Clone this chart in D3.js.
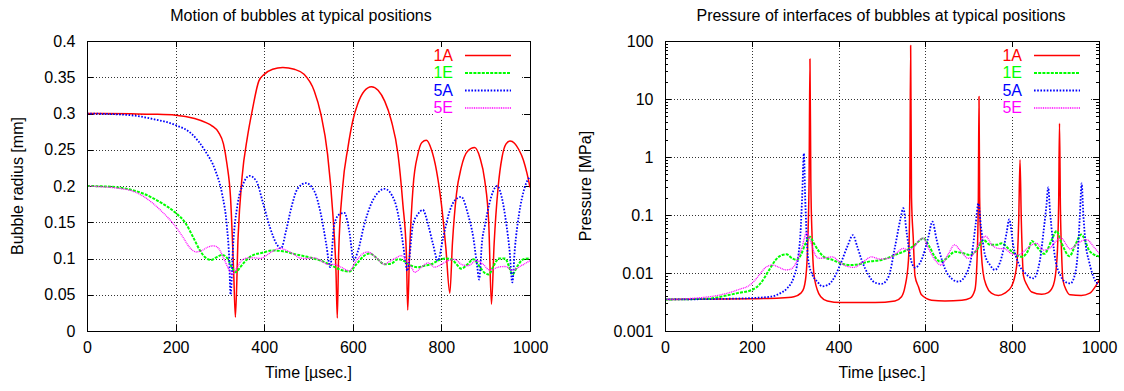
<!DOCTYPE html>
<html>
<head>
<meta charset="utf-8">
<script src="https://cdn.jsdelivr.net/npm/d3@7"></script>
<style>
body { margin: 0; background: #fff; }
svg { display: block; font-family: "Liberation Sans", Arial, Helvetica, sans-serif; font-size: 16px; }
.grid line { stroke: #000; stroke-opacity: 0.8; stroke-dasharray: 1,2; shape-rendering: crispEdges; }
.axis text { font-size: 16px; fill: #000; font-family: "Liberation Sans", Arial, Helvetica, sans-serif; }
.axis line { stroke: #000; shape-rendering: crispEdges; }
.axis path { display: none; }
.border { fill: none; stroke: #000; stroke-width: 1.2; shape-rendering: crispEdges; }
.curve { fill: none; stroke-linejoin: round; }
</style>
</head>
<body>
<svg width="1124" height="391"></svg>
<script>
// ---- data ----
var timeTicks = [0, 200, 400, 600, 800, 1000];
var radiusTicks = [0, 0.05, 0.1, 0.15, 0.2, 0.25, 0.3, 0.35, 0.4];
var pressureTicks = [0.001, 0.01, 0.1, 1, 10, 100];
var seriesNames = ["1A", "1E", "5A", "5E"];

// bubble radius [mm] vs time [usec]
var radius1A = [[0,0.3],[100,0.2995],[150,0.299],[200,0.2977],[243,0.293],[270,0.287],[282,0.283],[297,0.274],[308,0.258],[316,0.23],[324,0.184],[331,0.083],[335,0.019],[341,0.129],[350,0.212],[362,0.267],[373,0.304],[388,0.345],[400,0.354],[419,0.361],[442,0.3635],[468,0.361],[490,0.354],[513,0.331],[528,0.299],[543,0.244],[555,0.161],[562,0.083],[565,0.018],[568,0.106],[577,0.198],[589,0.253],[600,0.29],[611,0.313],[626,0.331],[642,0.337],[657,0.332],[672,0.317],[687,0.29],[702,0.244],[713,0.175],[721,0.106],[724,0.029],[728,0.106],[736,0.198],[747,0.244],[756,0.26],[766,0.263],[777,0.251],[789,0.221],[800,0.175],[810,0.115],[819,0.052],[825,0.122],[834,0.189],[845,0.226],[859,0.248],[875,0.253],[887,0.239],[898,0.207],[907,0.147],[913,0.037],[919,0.12],[928,0.198],[937,0.24],[946,0.258],[955,0.262],[965,0.259],[975,0.25],[985,0.236],[993,0.218],[1000,0.198]];
var radius1E = [[0,0.2],[53,0.199],[91,0.196],[129,0.189],[167,0.177],[200,0.163],[221,0.15],[240,0.129],[255,0.111],[266,0.102],[280,0.098],[293,0.102],[305,0.105],[316,0.101],[327,0.088],[335,0.081],[346,0.088],[358,0.097],[373,0.104],[396,0.108],[419,0.111],[442,0.11],[469,0.106],[506,0.101],[528,0.097],[547,0.092],[570,0.085],[592,0.082],[608,0.092],[626,0.104],[638,0.107],[653,0.101],[672,0.092],[687,0.093],[702,0.099],[717,0.096],[732,0.09],[747,0.088],[762,0.09],[777,0.092],[792,0.097],[808,0.1],[823,0.099],[834,0.092],[845,0.086],[859,0.092],[872,0.099],[887,0.088],[898,0.08],[907,0.078],[918,0.09],[930,0.1],[944,0.1],[952,0.09],[960,0.078],[972,0.09],[985,0.099],[1000,0.1]];
var radius5A = [[0,0.3],[91,0.298],[152,0.292],[200,0.284],[236,0.272],[267,0.248],[290,0.221],[305,0.189],[316,0.143],[321,0.1],[324,0.05],[330,0.12],[340,0.175],[352,0.202],[367,0.214],[382,0.207],[398,0.175],[413,0.143],[428,0.12],[438,0.114],[450,0.14],[462,0.172],[475,0.196],[494,0.204],[513,0.193],[528,0.161],[540,0.12],[549,0.088],[558,0.147],[570,0.161],[581,0.163],[592,0.138],[602,0.098],[611,0.109],[626,0.147],[645,0.18],[672,0.196],[694,0.18],[709,0.138],[718,0.1],[723,0.083],[736,0.147],[747,0.161],[758,0.167],[770,0.147],[781,0.12],[792,0.097],[804,0.129],[819,0.166],[830,0.18],[845,0.185],[860,0.161],[872,0.129],[881,0.088],[885,0.071],[892,0.125],[898,0.145],[908,0.175],[917,0.193],[926,0.2],[936,0.185],[946,0.15],[954,0.11],[960,0.067],[966,0.115],[975,0.16],[988,0.198],[1000,0.213]];
var radius5E = [[0,0.2],[91,0.195],[129,0.185],[167,0.166],[200,0.144],[217,0.129],[232,0.115],[247,0.109],[259,0.111],[274,0.116],[286,0.1175],[297,0.114],[308,0.101],[320,0.085],[327,0.078],[339,0.088],[350,0.098],[366,0.101],[377,0.101],[392,0.1],[404,0.104],[419,0.11],[435,0.114],[451,0.111],[469,0.105],[479,0.101],[494,0.1],[513,0.101],[528,0.097],[543,0.092],[558,0.092],[574,0.088],[592,0.083],[608,0.097],[623,0.107],[634,0.109],[653,0.101],[672,0.092],[683,0.096],[698,0.101],[709,0.104],[721,0.097],[732,0.088],[740,0.081],[755,0.088],[770,0.094],[785,0.088],[800,0.092],[815,0.097],[830,0.099],[845,0.092],[860,0.09],[879,0.097],[894,0.092],[909,0.084],[928,0.088],[944,0.089],[960,0.084],[980,0.09],[1000,0.097]];

// interface pressure [MPa] vs time [usec]
var pressure1A = [[0,0.0035],[200,0.0036],[266,0.0037],[297,0.0039],[313,0.0045],[320,0.0055],[326,0.0113],[330,0.063],[332,0.4],[334,49],[336,0.4],[339,0.04],[343,0.0099],[351,0.0051],[359,0.0039],[374,0.0033],[405,0.0031],[484,0.0031],[530,0.0033],[545,0.0039],[553,0.0058],[561,0.0168],[564,0.2],[566,84],[568,0.2],[572,0.04],[576,0.0089],[584,0.0058],[591,0.0042],[614,0.0034],[645,0.0033],[684,0.0034],[703,0.0037],[714,0.0051],[719,0.0168],[722,0.2],[723.5,11],[725,0.2],[728,0.031],[733,0.0101],[741,0.0059],[752,0.0045],[768,0.0041],[783,0.0045],[798,0.0058],[810,0.0128],[815,0.08],[818,0.9],[821,0.08],[826,0.0089],[834,0.0062],[845,0.0047],[868,0.0043],[883,0.0046],[895,0.0062],[903,0.0168],[907,0.15],[909,3.8],[911,0.15],[914,0.02],[917,0.0075],[925,0.005],[934,0.0042],[959,0.0041],[979,0.0045],[992,0.0059],[1000,0.0075]];
var pressure1E = [[0,0.0035],[100,0.0036],[128,0.0039],[167,0.0045],[200,0.0051],[220,0.0066],[240,0.0113],[255,0.0168],[270,0.0205],[280,0.021],[293,0.0179],[303,0.0168],[313,0.0205],[324,0.0325],[334,0.042],[343,0.0325],[355,0.0233],[366,0.019],[386,0.0168],[405,0.0147],[428,0.0137],[447,0.0142],[469,0.0157],[499,0.0168],[530,0.0205],[553,0.024],[572,0.029],[588,0.037],[595,0.04],[607,0.0306],[622,0.019],[634,0.0157],[649,0.0179],[668,0.0233],[684,0.0222],[703,0.0205],[718,0.0247],[734,0.037],[749,0.0306],[764,0.0306],[776,0.0325],[791,0.0265],[806,0.0214],[822,0.019],[837,0.0247],[845,0.0357],[860,0.0265],[874,0.0214],[891,0.037],[902,0.053],[914,0.0325],[932,0.0195],[945,0.03],[959,0.046],[979,0.0236],[1000,0.0193]];
var pressure5A = [[0,0.0035],[150,0.0036],[200,0.0037],[243,0.0039],[266,0.0045],[282,0.0055],[297,0.0086],[306,0.0168],[313,0.063],[316,0.2],[320,1.15],[323,0.2],[326,0.05],[330,0.0168],[340,0.0092],[351,0.0071],[362,0.0059],[375,0.0062],[393,0.0092],[405,0.0147],[420,0.0284],[433,0.045],[443,0.0284],[453,0.0168],[469,0.0092],[484,0.0068],[499,0.0065],[515,0.0086],[530,0.0284],[542,0.082],[549,0.131],[557,0.0488],[565,0.0192],[576,0.0124],[591,0.0168],[607,0.042],[616,0.077],[626,0.037],[638,0.0168],[653,0.0092],[676,0.0071],[695,0.0099],[707,0.021],[716,0.0714],[722,0.159],[728,0.063],[737,0.021],[749,0.0137],[760,0.0113],[776,0.0192],[787,0.0488],[793,0.084],[803,0.028],[814,0.015],[830,0.0099],[849,0.0081],[864,0.0168],[872,0.05],[879,0.15],[883,0.3],[887,0.12],[893,0.04],[900,0.016],[910,0.0095],[920,0.0072],[934,0.0066],[946,0.0105],[952,0.028],[956,0.1],[960,0.35],[964,0.1],[969,0.033],[977,0.016],[992,0.0072],[1000,0.0063]];
var pressure5E = [[0,0.0035],[90,0.0038],[128,0.0042],[167,0.0051],[200,0.0066],[217,0.0092],[232,0.0125],[247,0.0137],[263,0.0125],[278,0.0113],[290,0.0117],[305,0.0168],[316,0.0284],[326,0.0495],[336,0.0345],[343,0.0233],[355,0.0179],[370,0.0183],[386,0.019],[401,0.0157],[416,0.0133],[435,0.0125],[457,0.0157],[476,0.019],[495,0.0174],[515,0.0179],[534,0.0222],[549,0.0265],[561,0.0247],[572,0.027],[588,0.038],[595,0.04],[607,0.0265],[622,0.0168],[636,0.0137],[653,0.0214],[667,0.0306],[680,0.0247],[699,0.0179],[714,0.0233],[728,0.037],[739,0.043],[753,0.0306],[768,0.0265],[783,0.026],[799,0.0214],[814,0.0205],[830,0.0247],[845,0.0306],[856,0.0325],[872,0.0247],[887,0.027],[902,0.036],[912,0.04],[934,0.026],[952,0.033],[971,0.0375],[990,0.027],[1000,0.022]];

// ---- styles ----
var seriesStyle = {
    "1A": {color: "#ff0000", dash: null, width: 1.5},
    "1E": {color: "#00ff00", dash: "3,1.2", width: 2},
    "5A": {color: "#0000ff", dash: "1.6,1.6", width: 1.8},
    "5E": {color: "#ff00ff", dash: "1,0.8", width: 1.3}
};

var svg = d3.select("svg");

function drawPanel(p) {
    var g = svg.append("g");
    var x = p.x, y = p.y;
    var x0 = x.range()[0], x1 = x.range()[1], yb = y.range()[0], yt = y.range()[1];

    // grid
    var grid = g.append("g").attr("class", "grid");
    grid.selectAll(".gx").data(timeTicks.slice(1, -1)).enter().append("line")
        .attr("x1", function(d) { return Math.round(x(d)) + 0.5; })
        .attr("x2", function(d) { return Math.round(x(d)) + 0.5; })
        .attr("y1", yb).attr("y2", yt);
    grid.selectAll(".gy").data(p.yTicks.slice(1, -1)).enter().append("line")
        .attr("y1", function(d) { return Math.round(y(d)) + 0.5; })
        .attr("y2", function(d) { return Math.round(y(d)) + 0.5; })
        .attr("x1", x0).attr("x2", x1);

    // key area masks the grid
    g.append("rect")
        .attr("x", x1 - 97).attr("y", 44)
        .attr("width", 89).attr("height", 73)
        .attr("fill", "#fff");

    // axes (inward ticks, mirrored)
    g.append("g").attr("class", "axis")
        .attr("transform", "translate(0," + yb + ")")
        .call(d3.axisBottom(x).tickValues(timeTicks).tickSizeInner(-6).tickSizeOuter(0).tickPadding(10.5).tickFormat(d3.format("d")));
    g.append("g").attr("class", "axis")
        .attr("transform", "translate(0," + yt + ")")
        .call(d3.axisTop(x).tickValues(timeTicks).tickSizeInner(-6).tickSizeOuter(0).tickFormat(""));
    g.append("g").attr("class", "axis")
        .attr("transform", "translate(" + x0 + ",0)")
        .call(d3.axisLeft(y).tickValues(p.yTicks).tickSizeInner(-6).tickSizeOuter(0).tickPadding(11.5).tickFormat(d3.format("~g")));
    g.append("g").attr("class", "axis")
        .attr("transform", "translate(" + x1 + ",0)")
        .call(d3.axisRight(y).tickValues(p.yTicks).tickSizeInner(-6).tickSizeOuter(0).tickFormat(""));
    if (p.minorTicks) {
        g.append("g").attr("class", "axis")
            .attr("transform", "translate(" + x0 + ",0)")
            .call(d3.axisLeft(y).tickValues(p.minorTicks).tickSizeInner(-3).tickSizeOuter(0).tickFormat(""));
        g.append("g").attr("class", "axis")
            .attr("transform", "translate(" + x1 + ",0)")
            .call(d3.axisRight(y).tickValues(p.minorTicks).tickSizeInner(-3).tickSizeOuter(0).tickFormat(""));
    }

    // curves
    var clipId = "clip" + p.id;
    svg.append("clipPath").attr("id", clipId).append("rect")
        .attr("x", x0).attr("y", yt).attr("width", x1 - x0).attr("height", yb - yt);
    var line = d3.line()
        .x(function(d) { return x(d[0]); })
        .y(function(d) { return y(d[1]); })
        .curve(d3.curveMonotoneX);
    var curves = g.append("g").attr("clip-path", "url(#" + clipId + ")");
    seriesNames.forEach(function(name, i) {
        var st = seriesStyle[name];
        curves.append("path")
            .attr("class", "curve")
            .attr("d", line(p.series[i]))
            .attr("stroke", st.color)
            .attr("stroke-width", st.width)
            .attr("stroke-dasharray", st.dash);
    });

    // border
    g.append("rect").attr("class", "border")
        .attr("x", x0 + 0.5).attr("y", yt + 0.5)
        .attr("width", x1 - x0).attr("height", yb - yt);

    // key
    seriesNames.forEach(function(name, i) {
        var st = seriesStyle[name];
        var ky = 55 + i * 17.5;
        g.append("text")
            .attr("x", x1 - 77).attr("y", ky).attr("dy", "0.35em")
            .attr("text-anchor", "end")
            .attr("fill", st.color)
            .text(name);
        g.append("line")
            .attr("x1", x1 - 65).attr("x2", x1 - 19)
            .attr("y1", ky + 0.5).attr("y2", ky + 0.5)
            .attr("stroke", st.color)
            .attr("stroke-width", st.width)
            .attr("stroke-dasharray", st.dash);
    });

    // titles
    g.append("text")
        .attr("x", p.titleX).attr("y", 21)
        .attr("text-anchor", "middle")
        .text(p.title);
    g.append("text")
        .attr("x", (x0 + x1) / 2).attr("y", 378)
        .attr("text-anchor", "middle")
        .text("Time [\u00b5sec.]");
    g.append("text")
        .attr("transform", "translate(" + p.yLabelX + "," + ((yt + yb) / 2) + ") rotate(-90)")
        .attr("text-anchor", "middle")
        .text(p.yLabel);
}

// left: bubble radius
var xLeft = d3.scaleLinear().domain([0, 1000]).range([87, 530]);
var yLeft = d3.scaleLinear().domain([0, 0.4]).range([331, 41]);
drawPanel({
    id: "L", x: xLeft, y: yLeft, yTicks: radiusTicks,
    series: [radius1A, radius1E, radius5A, radius5E],
    title: "Motion of bubbles at typical positions", titleX: 301,
    yLabel: "Bubble radius [mm]", yLabelX: 23
});

// right: interface pressure (log)
var xRight = d3.scaleLinear().domain([0, 1000]).range([665, 1099]);
var yRight = d3.scaleLog().domain([0.001, 100]).range([331, 41]);
var minor = yRight.ticks().filter(function(v) {
    var l = Math.log10(v);
    return Math.abs(l - Math.round(l)) > 1e-6;
});
drawPanel({
    id: "R", x: xRight, y: yRight, yTicks: pressureTicks, minorTicks: minor,
    series: [pressure1A, pressure1E, pressure5A, pressure5E],
    title: "Pressure of interfaces of bubbles at typical positions", titleX: 881,
    yLabel: "Pressure [MPa]", yLabelX: 591
});
</script>
</body>
</html>
